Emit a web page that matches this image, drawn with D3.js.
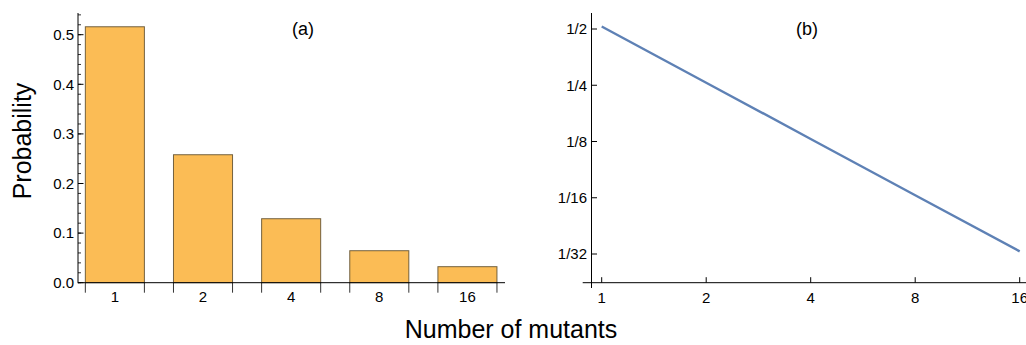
<!DOCTYPE html>
<html>
<head>
<meta charset="utf-8">
<script src="https://cdn.jsdelivr.net/npm/d3@7"></script>
<style>
  body { margin: 0; background: #fff; }
  svg text { font-family: "Liberation Sans", Arial, sans-serif; fill: #000; }
</style>
</head>
<body>
<div id="chart"></div>
<script>
// data
var mutants = [1, 2, 4, 8, 16];
var probability = [0.516, 0.258, 0.129, 0.0645, 0.0323];
var barTickLabels = ["1", "2", "4", "8", "16"];
var leftYTicks = [0, 0.1, 0.2, 0.3, 0.4, 0.5];
var rightYTicks = [1/2, 1/4, 1/8, 1/16, 1/32];
var rightYLabels = ["1/2", "1/4", "1/8", "1/16", "1/32"];

var W = 1026, H = 345
  , axisY = 282.7
  , barFill = "#fbbc55"
  , barEdge = "#5c4b2c"
  , lineColor = "#5e81b5"
  , tickFont = 15
;

var svg = d3.select("#chart").append("svg")
  .attr("width", W).attr("height", H);

/* ---------- panel (a): bar chart ---------- */
var xa = d3.scaleBand()
  .domain(barTickLabels)
  .range([70.8, 511.5])
  .paddingInner(0.33)
  .paddingOuter(0.165);

var ya = d3.scaleLinear().domain([0, 0.5]).range([axisY, 34.7]);

var ga = svg.append("g");

ga.selectAll(".bar")
  .data(probability)
  .enter().append("rect")
  .attr("class", "bar")
  .attr("x", function(d, i) { return xa(barTickLabels[i]); })
  .attr("y", function(d) { return ya(d); })
  .attr("width", xa.bandwidth())
  .attr("height", function(d) { return ya(0) - ya(d); })
  .attr("fill", barFill)
  .attr("stroke", barEdge)
  .attr("stroke-opacity", 0.85)
  .attr("stroke-width", 1);

// y axis with minor ticks pointing inwards
ga.append("line")
  .attr("x1", 78).attr("x2", 78)
  .attr("y1", 13).attr("y2", axisY + 0.5)
  .attr("stroke", "#000");

var minor = d3.range(0, 0.545, 0.02);
ga.selectAll(".minor")
  .data(minor)
  .enter().append("line")
  .attr("x1", 78).attr("x2", 81)
  .attr("y1", function(d) { return ya(d); })
  .attr("y2", function(d) { return ya(d); })
  .attr("stroke", "#000").attr("stroke-width", 0.8);

ga.selectAll(".major")
  .data(leftYTicks)
  .enter().append("line")
  .attr("x1", 78).attr("x2", 83.5)
  .attr("y1", function(d) { return ya(d); })
  .attr("y2", function(d) { return ya(d); })
  .attr("stroke", "#000");

ga.selectAll(".ylab")
  .data(leftYTicks)
  .enter().append("text")
  .attr("x", 74)
  .attr("y", function(d) { return ya(d); })
  .attr("dy", "0.35em")
  .attr("text-anchor", "end")
  .style("font-size", tickFont + "px")
  .text(function(d) { return d3.format(".1f")(d); });

// x axis
ga.append("line")
  .attr("x1", 78).attr("x2", 505)
  .attr("y1", axisY).attr("y2", axisY)
  .attr("stroke", "#000");

var edges = [];
barTickLabels.forEach(function(c) {
  edges.push(xa(c));
  edges.push(xa(c) + xa.bandwidth());
});
ga.selectAll(".xtick")
  .data(edges)
  .enter().append("line")
  .attr("x1", function(d) { return d; })
  .attr("x2", function(d) { return d; })
  .attr("y1", axisY).attr("y2", axisY + 10)
  .attr("stroke", "#000").attr("stroke-width", 0.8);

ga.selectAll(".xlab")
  .data(barTickLabels)
  .enter().append("text")
  .attr("x", function(d) { return xa(d) + xa.bandwidth() / 2; })
  .attr("y", 297)
  .attr("dy", "0.35em")
  .attr("text-anchor", "middle")
  .style("font-size", tickFont + "px")
  .text(function(d) { return d; });

ga.append("text")
  .attr("x", 303).attr("y", 29).attr("dy", "0.35em")
  .attr("text-anchor", "middle")
  .style("font-size", "18px")
  .text("(a)");

/* ---------- panel (b): log-log line ---------- */
var xb = d3.scaleLog().base(2).domain([1, 16]).range([601.7, 1019.7]);
var yb = d3.scaleLog().base(2).domain([1/32, 1/2]).range([254, 29]);

var gb = svg.append("g");

gb.append("line")
  .attr("x1", 591.5).attr("x2", 591.5)
  .attr("y1", 13).attr("y2", 288)
  .attr("stroke", "#000");
gb.append("line")
  .attr("x1", 582.7).attr("x2", W)
  .attr("y1", axisY).attr("y2", axisY)
  .attr("stroke", "#000");

gb.selectAll(".xtick")
  .data(mutants)
  .enter().append("line")
  .attr("x1", function(d) { return xb(d); })
  .attr("x2", function(d) { return xb(d); })
  .attr("y1", axisY).attr("y2", axisY - 5.5)
  .attr("stroke", "#000");

gb.selectAll(".xlab")
  .data(mutants)
  .enter().append("text")
  .attr("x", function(d) { return xb(d); })
  .attr("y", 298)
  .attr("dy", "0.35em")
  .attr("text-anchor", "middle")
  .style("font-size", tickFont + "px")
  .text(function(d) { return d; });

gb.selectAll(".ytick")
  .data(rightYTicks)
  .enter().append("line")
  .attr("x1", 591.5).attr("x2", 597)
  .attr("y1", function(d) { return yb(d); })
  .attr("y2", function(d) { return yb(d); })
  .attr("stroke", "#000");

gb.selectAll(".ylab")
  .data(rightYTicks)
  .enter().append("text")
  .attr("x", 587)
  .attr("y", function(d) { return yb(d); })
  .attr("dy", "0.35em")
  .attr("text-anchor", "end")
  .style("font-size", tickFont + "px")
  .text(function(d, i) { return rightYLabels[i]; });

var line = d3.line()
  .x(function(d, i) { return xb(mutants[i]); })
  .y(function(d) { return yb(d); });

gb.append("path")
  .datum(probability)
  .attr("d", line)
  .attr("fill", "none")
  .attr("stroke", lineColor)
  .attr("stroke-width", 2.4);

gb.append("text")
  .attr("x", 807).attr("y", 29).attr("dy", "0.35em")
  .attr("text-anchor", "middle")
  .style("font-size", "18px")
  .text("(b)");

/* ---------- shared labels ---------- */
svg.append("text")
  .attr("transform", "translate(22,141) rotate(-90)")
  .attr("dy", "0.35em")
  .attr("text-anchor", "middle")
  .style("font-size", "25px")
  .text("Probability");

svg.append("text")
  .attr("x", 511).attr("y", 329)
  .attr("dy", "0.35em")
  .attr("text-anchor", "middle")
  .style("font-size", "25px")
  .text("Number of mutants");
</script>
</body>
</html>
